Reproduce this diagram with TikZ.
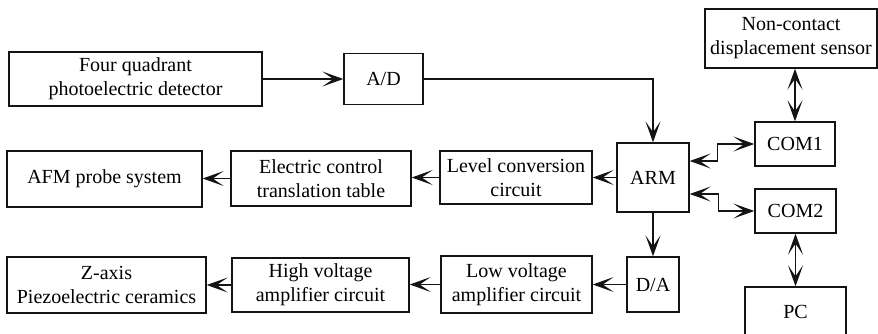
\documentclass[tikz,border=0pt]{standalone}
\usepackage{fontspec}
\newfontfamily\amfont{Liberation Serif}
\usepackage{tikz}
\usetikzlibrary{arrows.meta,positioning,calc}
\definecolor{amline}{RGB}{20,20,20}
\tikzset{
  amTip/.tip={Stealth[length=10.5pt,width=7.5pt,inset=5.5pt]},
  amBlock/.style={draw=amline, line width=0.7pt, fill=white, align=center,
                  inner sep=0pt, font=\amfont\fontsize{10}{12}\selectfont},
  amArrow/.style={-amTip, line width=0.6pt, draw=amline},
  amBoth/.style={amTip-amTip, line width=0.6pt, draw=amline}
}
\begin{document}
\begin{tikzpicture}[x=0.5pt,y=-0.5pt]
  \useasboundingbox (0,0) rectangle (878,333);
  % top row
  \node[amBlock, minimum width=126.5pt, minimum height=27pt] (quad) at (135.5,79)
        {Four quadrant\\photoelectric detector};
  \node[amBlock, minimum width=39.5pt, minimum height=25.5pt] (ad) at (383.5,79) {A/D};
  % middle row
  \node[amBlock, minimum width=97.5pt, minimum height=28pt] (afm) at (104.5,179) {AFM probe system};
  \node[amBlock, minimum width=90pt, minimum height=27.5pt] (ectl) at (321,178.5)
        {Electric control\\translation table};
  \node[amBlock, minimum width=76pt, minimum height=26.5pt] (level) at (516,177.5)
        {Level conversion\\circuit};
  \node[amBlock, minimum width=36pt, minimum height=34.5pt] (arm) at (653,177.5) {ARM};
  % bottom row
  \node[amBlock, minimum width=99.5pt, minimum height=28pt] (zaxis) at (106.5,285)
        {Z-axis\\Piezoelectric ceramics};
  \node[amBlock, minimum width=88.5pt, minimum height=27pt] (high) at (320.5,285)
        {High voltage\\amplifier circuit};
  \node[amBlock, minimum width=75.5pt, minimum height=28.5pt] (low) at (516.5,284.5)
        {Low voltage\\amplifier circuit};
  \node[amBlock, minimum width=26pt, minimum height=27.5pt] (da) at (653,284.5) {D/A};
  % right column
  \node[amBlock, minimum width=86pt, minimum height=29.5pt] (sensor) at (791,38.5)
        {Non-contact\\displacement sensor};
  \node[amBlock, minimum width=40pt, minimum height=22pt] (com1) at (795,144) {COM1};
  \node[amBlock, minimum width=40.5pt, minimum height=22pt] (com2) at (795.5,211) {COM2};
  \node[amBlock, minimum width=50.5pt, minimum height=24.5pt] (pc) at (795.5,311.5) {PC};

  \draw[amArrow] (quad.east) -- (ad.west);
  \draw[amArrow] (ad.east) -| (arm.north);
  \draw[amArrow] (arm.west) -- (level.east);
  \draw[amArrow] (level.west) -- (level.west -| ectl.east);
  \draw[amArrow] (ectl.west) -- (ectl.west -| afm.east);
  \draw[amArrow] (arm.south) -- (da.north);
  \draw[amArrow] (da.west) -- (low.east);
  \draw[amArrow] (low.west) -- (low.west -| high.east);
  \draw[amArrow] (high.west) -- (zaxis.east);
  \draw[amBoth] ([yshift=8.25pt]arm.east) -- ++(28,0) |- (com1.west);
  \draw[amBoth] ([yshift=-8.25pt]arm.east) -- ++(29,0) |- (com2.west);
  \draw[amBoth] (com1.north |- sensor.south) -- (com1.north);
  \draw[amBoth] (com2.south) -- (pc.north);
\end{tikzpicture}
\end{document}
